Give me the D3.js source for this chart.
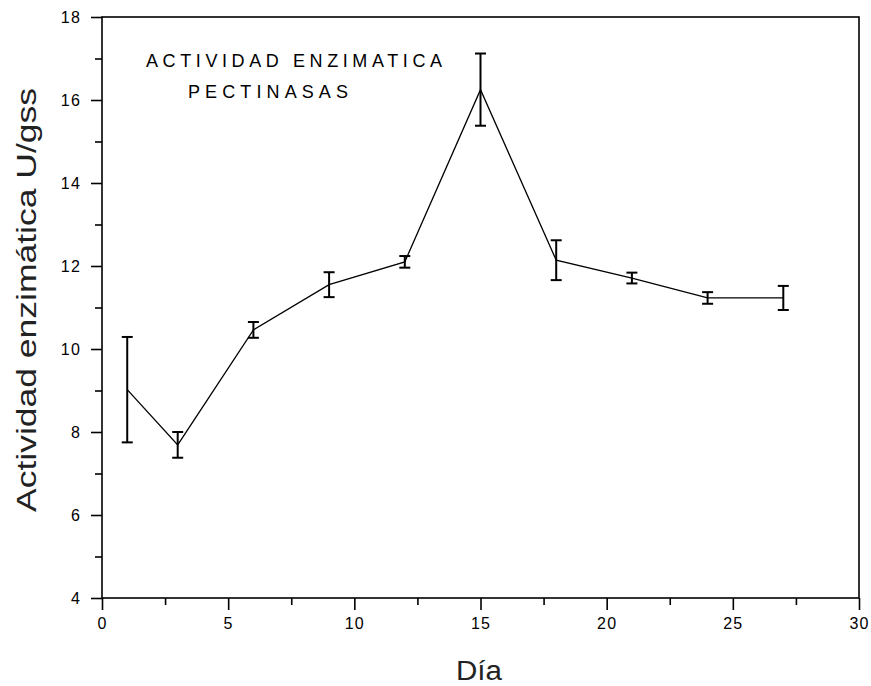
<!DOCTYPE html>
<html>
<head>
<meta charset="utf-8">
<script src="https://cdn.jsdelivr.net/npm/d3@7"></script>
<style>
  html, body { margin: 0; padding: 0; background: #fff; }
  svg { display: block; font-family: Arial, "Liberation Sans", sans-serif; }
</style>
</head>
<body>
<svg id="chart" width="871" height="686"></svg>
<script>
// Enzymatic activity (pectinases) by day, mean ± error
const days = [1, 3, 6, 9, 12, 15, 18, 21, 24, 27];
const activity = [9.02, 7.69, 10.46, 11.55, 12.10, 16.25, 12.14, 11.71, 11.23, 11.23];
const errors = [1.27, 0.31, 0.19, 0.30, 0.14, 0.87, 0.48, 0.13, 0.14, 0.29];
const xTicks = [0, 5, 10, 15, 20, 25, 30];
const xMinorTicks = [2.5, 7.5, 12.5, 17.5, 22.5, 27.5];
const yTicks = [4, 6, 8, 10, 12, 14, 16, 18];
const yMinorTicks = [5, 7, 9, 11, 13, 15, 17];
const titleLines = ["ACTIVIDAD ENZIMATICA", "PECTINASAS"];
const xTitle = "Día";
const yTitle = "Actividad enzimática U/gss";

const svg = d3.select("#chart");
const plotLeft = 102, plotRight = 859, plotTop = 17, plotBottom = 598;

const x = d3.scaleLinear().domain([0, 30]).range([plotLeft, plotRight]);
const y = d3.scaleLinear().domain([4, 18]).range([plotBottom, plotTop]);

const data = days.map((d, i) => ({ day: d, v: activity[i], e: errors[i] }));

// frame
svg.append("rect")
  .attr("x", plotLeft).attr("y", plotTop)
  .attr("width", plotRight - plotLeft).attr("height", plotBottom - plotTop)
  .attr("fill", "none").attr("stroke", "#000").attr("stroke-width", 1.6);

// x axis
const xAxis = svg.append("g").attr("transform", `translate(0,${plotBottom})`)
  .call(d3.axisBottom(x).tickValues(xTicks).tickSize(12).tickPadding(8).tickFormat(d3.format("d")));
xAxis.append("g").call(d3.axisBottom(x).tickValues(xMinorTicks).tickSize(7).tickFormat(""));

// y axis
const yAxis = svg.append("g").attr("transform", `translate(${plotLeft},0)`)
  .call(d3.axisLeft(y).tickValues(yTicks).tickSize(11).tickPadding(10).tickFormat(d3.format("d")));
yAxis.append("g").call(d3.axisLeft(y).tickValues(yMinorTicks).tickSize(7).tickFormat(""));

svg.selectAll(".domain").remove();
svg.selectAll(".tick line").attr("stroke", "#000").attr("stroke-width", 1.6);
svg.selectAll(".tick text")
  .attr("fill", "#000").attr("font-size", 16).attr("letter-spacing", 1.2)
  .attr("font-family", "Arial, 'Liberation Sans', sans-serif");

// connecting line
svg.append("path")
  .datum(data)
  .attr("fill", "none").attr("stroke", "#000").attr("stroke-width", 1.3)
  .attr("d", d3.line().x(d => x(d.day)).y(d => y(d.v)));

// error bars
const cap = 5.5;
const eb = svg.append("g").attr("stroke", "#000").attr("stroke-width", 2);
eb.selectAll(".v").data(data).join("line")
  .attr("x1", d => x(d.day)).attr("x2", d => x(d.day))
  .attr("y1", d => y(d.v + d.e)).attr("y2", d => y(d.v - d.e));
eb.selectAll(".t").data(data).join("line")
  .attr("x1", d => x(d.day) - cap).attr("x2", d => x(d.day) + cap)
  .attr("y1", d => y(d.v + d.e)).attr("y2", d => y(d.v + d.e));
eb.selectAll(".b").data(data).join("line")
  .attr("x1", d => x(d.day) - cap).attr("x2", d => x(d.day) + cap)
  .attr("y1", d => y(d.v - d.e)).attr("y2", d => y(d.v - d.e));

// title inside the plot
svg.append("text")
  .attr("x", 146).attr("y", 67)
  .attr("font-size", 18).attr("fill", "#000")
  .attr("textLength", 296).attr("lengthAdjust", "spacing")
  .text(titleLines[0]);
svg.append("text")
  .attr("x", 188).attr("y", 98)
  .attr("font-size", 18).attr("fill", "#000")
  .attr("textLength", 160).attr("lengthAdjust", "spacing")
  .text(titleLines[1]);

// axis titles
svg.append("text")
  .attr("x", 479).attr("y", 680)
  .attr("text-anchor", "middle")
  .attr("font-size", 27).attr("fill", "#222")
  .attr("textLength", 46).attr("lengthAdjust", "spacingAndGlyphs")
  .text(xTitle);

svg.append("text")
  .attr("transform", "translate(36,300) rotate(-90)")
  .attr("text-anchor", "middle")
  .attr("font-size", 27).attr("fill", "#222")
  .attr("textLength", 424).attr("lengthAdjust", "spacingAndGlyphs")
  .text(yTitle);
</script>
</body>
</html>
